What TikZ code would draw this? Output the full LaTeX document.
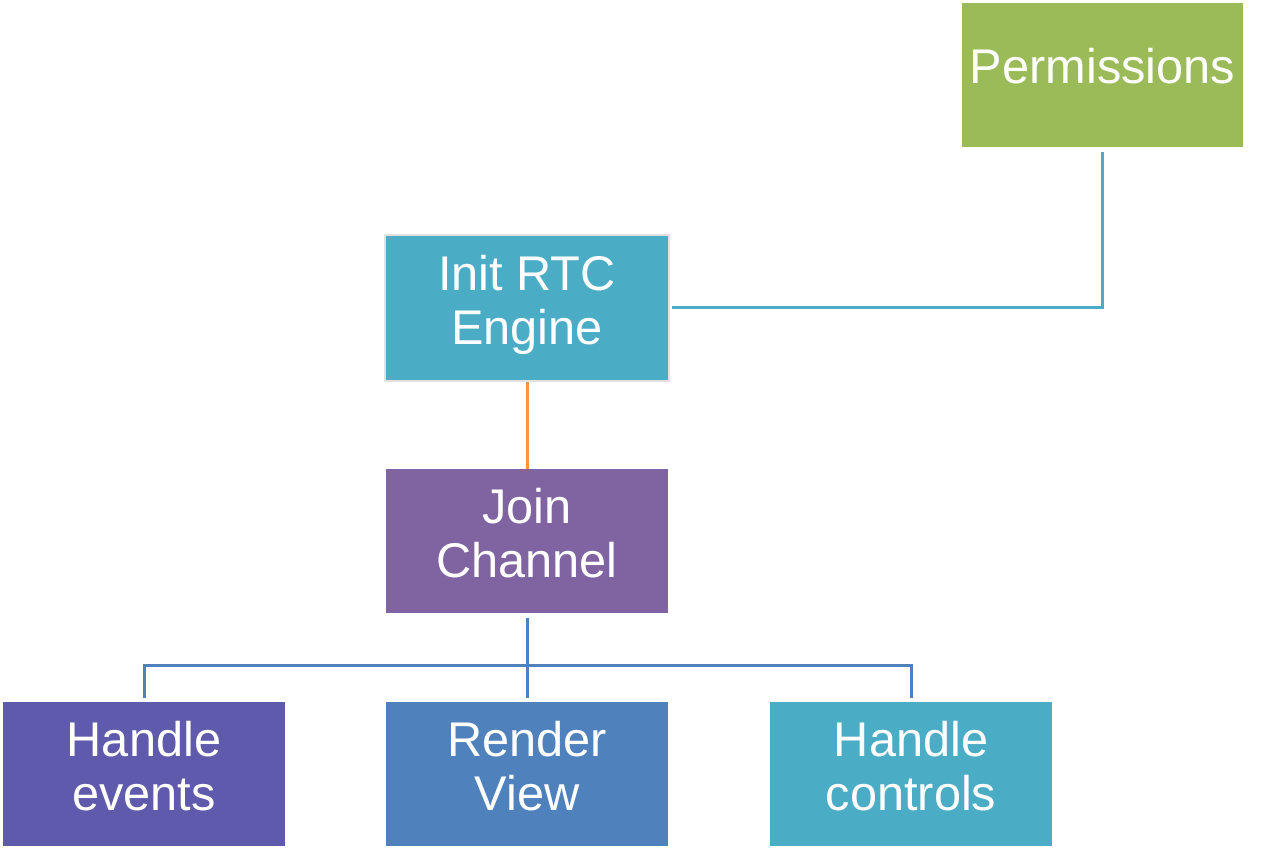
\documentclass[tikz,border=0pt]{standalone}
\usepackage{fontspec}
\setmainfont{Liberation Sans}
\definecolor{cgreen}{HTML}{9BBB59}
\definecolor{caqua}{HTML}{4BACC6}
\definecolor{cpurple}{HTML}{8064A2}
\definecolor{cviolet}{HTML}{5F5AAB}
\definecolor{cblue}{HTML}{4F81BD}
\definecolor{corange}{HTML}{F79646}
\definecolor{cborder}{HTML}{E2E2E2}
\begin{document}
\begin{tikzpicture}[x=1pt,y=-1pt,
  box/.style={rectangle, minimum width=282pt, minimum height=144pt, inner sep=0pt,
    text=white, align=center, font=\fontsize{48.7}{54}\selectfont,
    execute at end node=\strut},
  conn/.style={line width=3pt}]
\useasboundingbox[fill=white] (0,0) rectangle (1280,850);
\node[box, fill=cgreen, minimum width=281pt, execute at end node={}, label={[text=white, font=\fontsize{48.7}{54}\selectfont, yshift=9pt]center:Permissions}] (perm) at (1102.5,75) {};
\node[box, fill=caqua, draw=cborder, line width=2.5pt, minimum width=284pt, minimum height=146pt] (init) at (527,308) {Init RTC\\Engine};
\node[box, fill=cpurple] (join) at (527,541) {Join\\Channel};
\node[box, fill=cviolet] (events) at (144,774) {Handle\\events};
\node[box, fill=cblue] (render) at (527,774) {Render\\View};
\node[box, fill=caqua] (controls) at (911,774) {Handle\\controls};
\draw[conn, draw=caqua] ([yshift=-5pt]perm.south) |- ([xshift=1.5pt]init.east);
\draw[conn, draw=corange] (init.south) -- (join.north);
\draw[conn, draw=cblue] ([yshift=-5pt]join.south) -- ([yshift=4pt]render.north);
\draw[conn, draw=cblue] ([yshift=4pt]events.north) |- ([yshift=-52pt]join.south) -| ([yshift=4pt]controls.north);
\end{tikzpicture}
\end{document}
